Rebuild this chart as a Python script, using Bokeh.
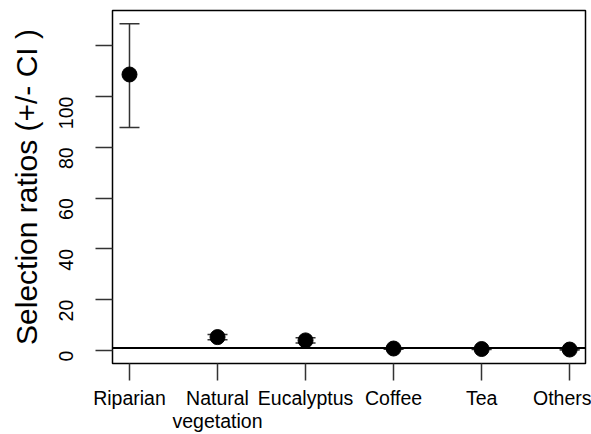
import math
from bokeh.plotting import figure
from bokeh.models import ColumnDataSource, Whisker, TeeHead, Span, FixedTicker, Range1d
from bokeh.embed import file_html
from bokeh.resources import INLINE

categories = ["Riparian", "Natural\nvegetation", "Eucalyptus", "Coffee", "Tea", "Others"]
ratios = [108.7, 5.3, 4.0, 0.8, 0.6, 0.4]
lower = [87.8, 4.3, 3.0, 0.5, 0.4, 0.2]
upper = [128.7, 6.3, 5.0, 1.1, 0.8, 0.6]
y_ticks = [0, 20, 40, 60, 80, 100, 120]
reference_level = 1

xs = list(range(1, len(categories) + 1))
src = ColumnDataSource(dict(x=xs, y=ratios, lo=lower, hi=upper))

FONT = "Liberation Sans"

p = figure(width=591, height=434, output_backend="svg", toolbar_location=None,
           x_range=Range1d(0.807, 6.18), y_range=Range1d(-5.1, 133.9),
           min_border_left=112, min_border_top=10, min_border_right=6, min_border_bottom=71)
p.grid.visible = False
p.outline_line_color = "black"
p.outline_line_width = 1.5
p.background_fill_color = "white"
p.border_fill_color = "white"

span = Span(location=reference_level, dimension="width", line_color="black", line_width=2)
p.add_layout(span)

w = Whisker(source=src, base="x", lower="lo", upper="hi", line_color="#333333", line_width=1.5,
            upper_head=TeeHead(size=20, line_color="#333333", line_width=1.5),
            lower_head=TeeHead(size=20, line_color="#333333", line_width=1.5))
p.add_layout(w)
p.scatter("x", "y", source=src, size=15, color="black")

# x axis
p.xaxis.ticker = FixedTicker(ticks=xs)
p.xaxis.major_label_overrides = {x: c for x, c in zip(xs, categories)}
p.xaxis.major_tick_out = 17
p.xaxis.major_tick_in = 0
p.xaxis.minor_tick_out = 0
p.xaxis.minor_tick_in = 0
p.xaxis.axis_line_color = None
p.xaxis.major_tick_line_color = "#333333"
p.xaxis.major_tick_line_width = 1.5
p.xaxis.major_label_text_font = FONT
p.xaxis.major_label_text_font_size = "19.5px"
p.xaxis.major_label_text_line_height = 1.05
p.xaxis.major_label_text_color = "black"
p.xaxis.major_label_standoff = 6

# y axis
p.yaxis.ticker = FixedTicker(ticks=y_ticks)
p.yaxis.major_label_overrides = {120: ""}
p.yaxis.major_tick_out = 17
p.yaxis.major_tick_in = 0
p.yaxis.minor_tick_out = 0
p.yaxis.minor_tick_in = 0
p.yaxis.axis_line_color = None
p.yaxis.major_tick_line_color = "#333333"
p.yaxis.major_tick_line_width = 1.5
p.yaxis.major_label_orientation = math.pi / 2
p.yaxis.major_label_text_font = FONT
p.yaxis.major_label_text_font_size = "19.5px"
p.yaxis.major_label_text_color = "black"
p.yaxis.major_label_standoff = 29
p.yaxis.axis_label = "Selection ratios (+/- CI )"
p.yaxis.axis_label_text_font = FONT
p.yaxis.axis_label_text_font_size = "30px"
p.yaxis.axis_label_text_font_style = "normal"
p.yaxis.axis_label_text_color = "black"
p.yaxis.axis_label_standoff = 7

open("out.html", "w").write(file_html(p, INLINE))
